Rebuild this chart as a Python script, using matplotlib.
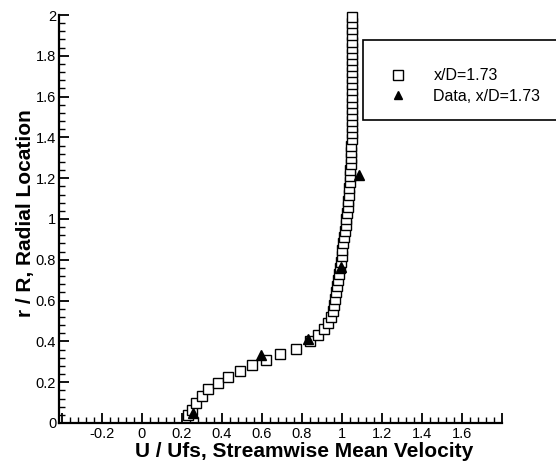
import matplotlib
matplotlib.use("Agg")
import matplotlib.pyplot as plt
from matplotlib.patches import Rectangle
from matplotlib.ticker import MultipleLocator, FuncFormatter

# CFD profile (squares)
sim_u = [0.23, 0.25, 0.27, 0.30, 0.33, 0.38, 0.43, 0.49, 0.55, 0.62, 0.69, 0.77,
         0.84, 0.88, 0.91, 0.93, 0.945, 0.955, 0.96, 0.965, 0.97, 0.975, 0.98,
         0.985, 0.99, 0.995, 1.0, 1.0, 1.005, 1.01, 1.015, 1.02, 1.02, 1.025,
         1.03, 1.03, 1.035, 1.035, 1.04, 1.04, 1.04, 1.045, 1.045, 1.045, 1.045,
         1.048, 1.048, 1.048, 1.048, 1.05, 1.05, 1.05, 1.05, 1.05, 1.05, 1.05,
         1.05, 1.05, 1.048, 1.048, 1.048, 1.048, 1.048, 1.048, 1.048, 1.048]
sim_r = [0.04, 0.065, 0.10, 0.13, 0.165, 0.195, 0.225, 0.255, 0.285, 0.31, 0.34, 0.365,
         0.40, 0.43, 0.46, 0.49, 0.52, 0.55, 0.58, 0.61, 0.64, 0.67, 0.70,
         0.73, 0.76, 0.79, 0.82, 0.85, 0.88, 0.91, 0.94, 0.97, 1.00, 1.03,
         1.06, 1.09, 1.12, 1.15, 1.18, 1.21, 1.24, 1.27, 1.30, 1.33, 1.36,
         1.39, 1.42, 1.45, 1.48, 1.51, 1.54, 1.57, 1.60, 1.63, 1.66, 1.69,
         1.72, 1.75, 1.78, 1.81, 1.84, 1.87, 1.90, 1.93, 1.96, 1.99]

# Experimental data (triangles)
exp_u = [0.255, 0.595, 0.83, 0.995, 1.085]
exp_r = [0.05, 0.333, 0.41, 0.765, 1.216]

x_labeled = [-0.2, 0.0, 0.2, 0.4, 0.6, 0.8, 1.0, 1.2, 1.4, 1.6]
legend_labels = ["x/D=1.73", "Data, x/D=1.73"]
xlabel = "U / Ufs, Streamwise Mean Velocity"
ylabel = "r / R, Radial Location"

plt.rcParams['font.family'] = ['Liberation Sans', 'DejaVu Sans']

fig = plt.figure(figsize=(5.56, 4.63), dpi=100)
ax = fig.add_axes([59/556, 1-423/463, 443/556, 408/463])

h1, = ax.plot(sim_u, sim_r, linestyle='none', marker='s', markersize=7.8,
              markerfacecolor='white', markeredgecolor='black', markeredgewidth=1.0,
              clip_on=False, label=legend_labels[0])
h2, = ax.plot(exp_u, exp_r, linestyle='none', marker='^', markersize=7.5,
              color='black', clip_on=False, label=legend_labels[1])

ax.set_xlim(-0.415, 1.8)
ax.set_ylim(0, 2)
ax.xaxis.set_major_locator(MultipleLocator(0.2))
ax.xaxis.set_minor_locator(MultipleLocator(0.04))
ax.yaxis.set_major_locator(MultipleLocator(0.2))
ax.yaxis.set_minor_locator(MultipleLocator(0.04))

def fmt(v):
    s = f"{v:.1f}"
    if s.endswith(".0"):
        s = s[:-2]
    if s == "-0":
        s = "0"
    return s

def xfmt(v, pos):
    if any(abs(v - t) < 1e-6 for t in x_labeled):
        return fmt(v)
    return ""

ax.xaxis.set_major_formatter(FuncFormatter(xfmt))
ax.yaxis.set_major_formatter(FuncFormatter(lambda v, p: fmt(v)))

for s in ['top', 'right']:
    ax.spines[s].set_visible(False)
for s in ['left', 'bottom']:
    ax.spines[s].set_linewidth(1.6)

ax.tick_params(which='major', direction='in', length=7, width=1.3, labelsize=10.5, pad=3)
ax.tick_params(which='minor', direction='in', length=4, width=1.0)
ax.tick_params(axis='y', which='major', pad=2)

ax.set_xlabel(xlabel, fontsize=15, fontweight='bold', va='center')
ax.xaxis.set_label_coords(0.553, -0.069)
ax.set_ylabel(ylabel, fontsize=15, fontweight='bold', va='center')
ax.yaxis.set_label_coords(-0.076, 0.515)

# legend box extending off the right edge
rect = Rectangle((363/556, 1-120/463), 0.5, 80/463, transform=fig.transFigure,
                 facecolor='white', edgecolor='black', linewidth=1.2, zorder=5)
fig.patches.append(rect)
leg = fig.legend(handles=[h1, h2], labels=legend_labels, loc='center left',
                 bbox_to_anchor=(383/556, 1-86/463), frameon=False, borderpad=0,
                 handlelength=0.9, handletextpad=1.75, labelspacing=0.35,
                 fontsize=11.5, markerscale=0.85)
leg.set_zorder(6)

fig.savefig("out.png", dpi=100)
